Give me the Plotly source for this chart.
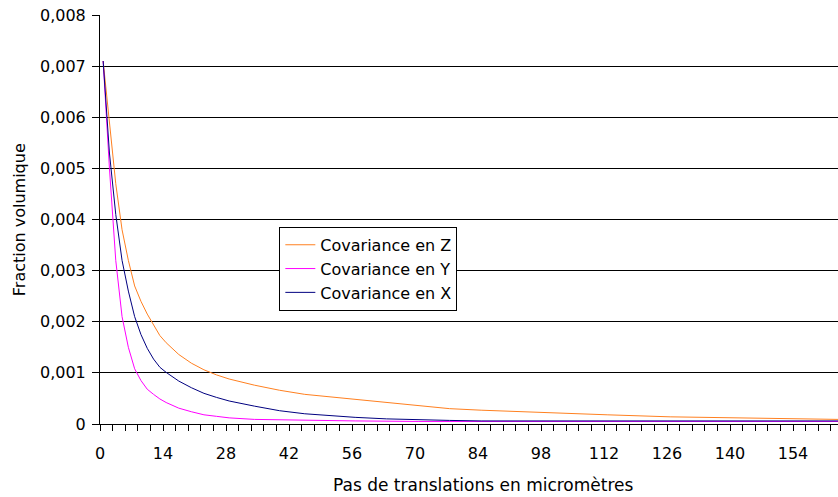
import plotly.graph_objects as go

# x positions (micrometres)
x_z = [0.7, 2.1, 3.5, 4.9, 6.3, 7.7, 9.1, 10.5, 11.9, 13.3, 14.7, 17.5, 20.3, 23.1, 25.9, 28.7,
       34.3, 39.9, 45.5, 51.1, 56.7, 63.7, 70.7, 77.7, 84.7, 98.7, 112.7, 126.7, 140.7, 154.7, 164]
cov_z = [0.0071, 0.0059, 0.0047, 0.0038, 0.0032, 0.0027, 0.0024, 0.00215, 0.00193, 0.00173, 0.00159,
         0.00136, 0.00119, 0.00106, 0.00096, 0.00088, 0.00076, 0.00066, 0.00058, 0.00053, 0.00048,
         0.00042, 0.00036, 0.00030, 0.00027, 0.00022, 0.00018, 0.00014, 0.00012, 0.00010, 0.00009]

x_y = [0.7, 2.1, 3.5, 4.9, 6.3, 7.7, 9.1, 10.5, 11.9, 13.3, 14.7, 17.5, 20.3, 23.1, 25.9, 28.7,
       34.3, 39.9, 45.5, 56.7, 70.7, 84.7, 112.7, 140.7, 164]
cov_y = [0.0071, 0.0050, 0.0032, 0.0021, 0.0015, 0.00108, 0.00085, 0.00068, 0.00058, 0.00049, 0.00042,
         0.00031, 0.00024, 0.00018, 0.00015, 0.00012, 0.00009, 0.00008, 0.00007, 0.00006, 0.00005,
         0.00005, 0.00005, 0.00005, 0.00005]

x_x = [0.7, 2.1, 3.5, 4.9, 6.3, 7.7, 9.1, 10.5, 11.9, 13.3, 14.7, 17.5, 20.3, 23.1, 25.9, 28.7,
       34.3, 39.9, 45.5, 51.1, 56.7, 63.7, 70.7, 77.7, 84.7, 112.7, 140.7, 164]
cov_x = [0.0071, 0.0053, 0.0041, 0.0032, 0.0026, 0.0021, 0.00175, 0.00148, 0.00127, 0.00111, 0.00101,
         0.00084, 0.00071, 0.00060, 0.00052, 0.00045, 0.00035, 0.00026, 0.00020, 0.00016, 0.00013,
         0.00010, 0.00008, 0.00007, 0.00006, 0.00006, 0.00006, 0.00006]

y_ticks = [0, 0.001, 0.002, 0.003, 0.004, 0.005, 0.006, 0.007, 0.008]
y_labels = ["0", "0,001", "0,002", "0,003", "0,004", "0,005", "0,006", "0,007", "0,008"]

FONT = "DejaVu Sans"

fig = go.Figure()
fig.add_trace(go.Scatter(x=x_z, y=cov_z, mode="lines", name="Covariance en Z",
                         line=dict(color="#FF8020", width=1)))
fig.add_trace(go.Scatter(x=x_y, y=cov_y, mode="lines", name="Covariance en Y",
                         line=dict(color="#FF00FF", width=1)))
fig.add_trace(go.Scatter(x=x_x, y=cov_x, mode="lines", name="Covariance en X",
                         line=dict(color="#000080", width=1)))

fig.update_layout(
    width=838, height=497,
    margin=dict(l=100, r=0, t=15, b=73),
    paper_bgcolor="white", plot_bgcolor="white",
    font=dict(family=FONT, size=16, color="black"),
    showlegend=True,
    legend=dict(x=0.243, y=0.482, xanchor="left", yanchor="top",
                bgcolor="white", bordercolor="black", borderwidth=1,
                font=dict(family=FONT, size=16), tracegroupgap=0),
    xaxis=dict(range=[0, 164], tickmode="linear", tick0=0, dtick=14,
               ticks="outside", ticklen=6, tickcolor="black", ticklabelstandoff=9,
               showline=True, linecolor="black", linewidth=1,
               showgrid=False, zeroline=False,
               minor=dict(dtick=2.8, tick0=0, ticks="outside", ticklen=6, tickcolor="black", showgrid=False),
               tickfont=dict(family=FONT, size=16)),
    yaxis=dict(range=[0, 0.008], tickmode="array", tickvals=y_ticks, ticktext=y_labels,
               ticks="outside", ticklen=7, tickcolor="black", ticklabelstandoff=3,
               showline=True, linecolor="black", linewidth=1,
               showgrid=True, gridcolor="black", gridwidth=1, zeroline=False,
               tickfont=dict(family=FONT, size=16)),
    annotations=[
        dict(text="Pas de translations en micromètres", xref="paper", yref="paper",
             x=0.52, y=-0.149, xanchor="center", yanchor="middle", showarrow=False,
             font=dict(family=FONT, size=17)),
        dict(text="Fraction volumique", xref="paper", yref="paper",
             x=-0.108, y=0.499, xanchor="center", yanchor="middle", showarrow=False,
             textangle=-90, font=dict(family=FONT, size=16)),
    ],
)

fig.write_html("out.html")
